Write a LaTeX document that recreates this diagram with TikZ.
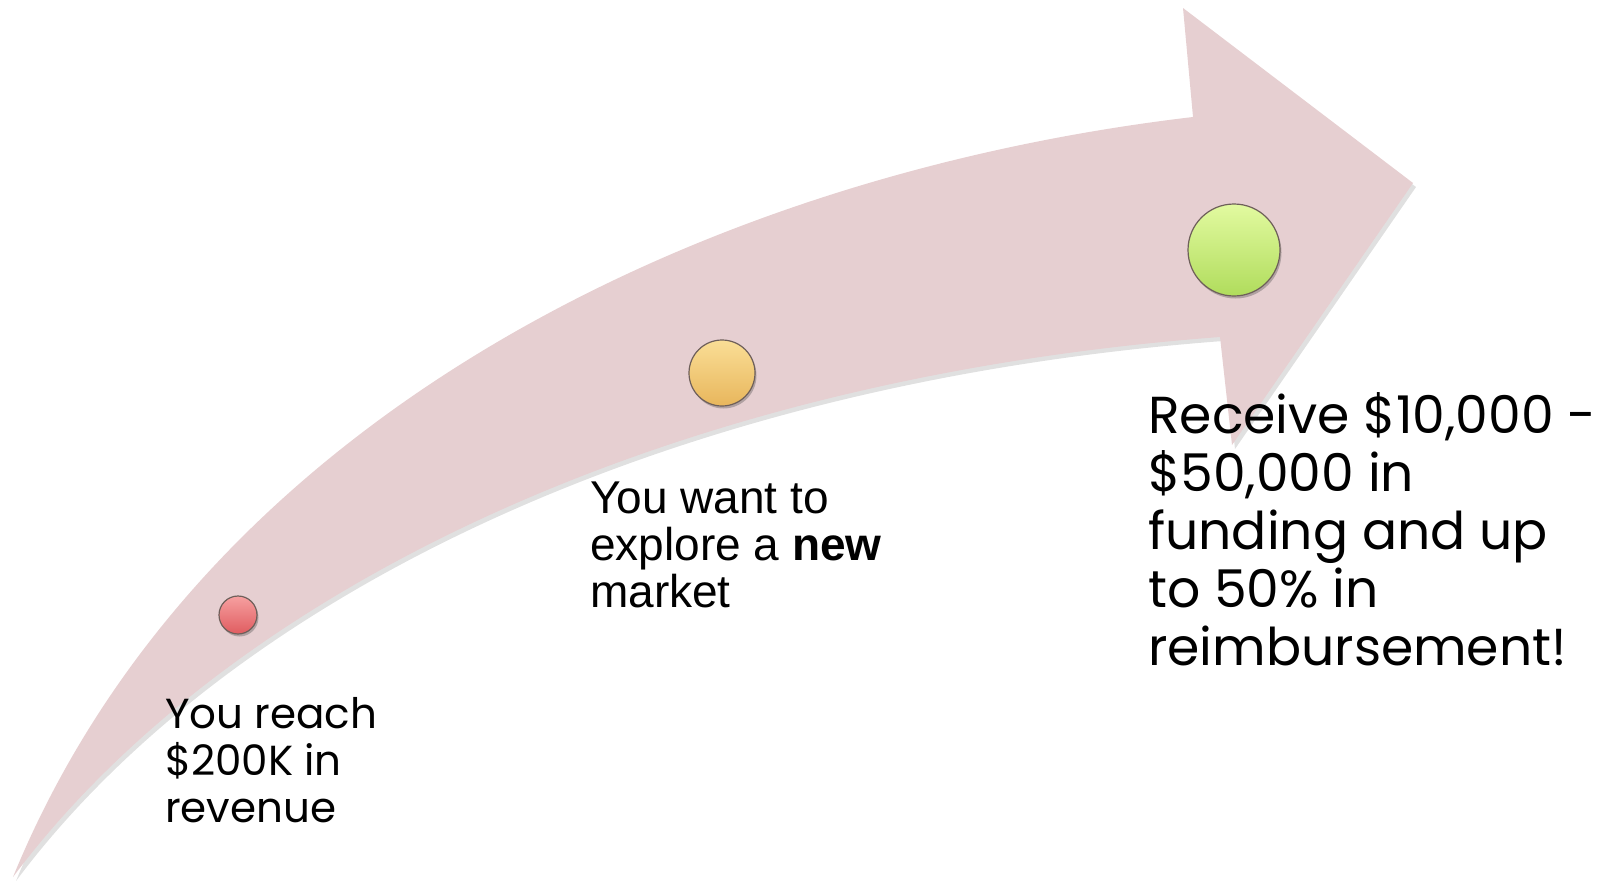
\documentclass[tikz,border=0pt]{standalone}
\usepackage{fontspec}
\setmainfont{Poppins}
\newfontfamily\arialface{Liberation Sans}
\usetikzlibrary{shadows}
\definecolor{arrowpink}{RGB}{230,207,209}
\definecolor{redtop}{RGB}{246,160,160}
\definecolor{redbot}{RGB}{224,92,96}
\definecolor{yeltop}{RGB}{250,222,150}
\definecolor{yelbot}{RGB}{232,182,92}
\definecolor{grntop}{RGB}{226,250,160}
\definecolor{grnbot}{RGB}{176,220,92}
\definecolor{rimgray}{RGB}{110,95,90}
\tikzset{
  ball/.style={circle, draw=rimgray, line width=1.2pt, inner sep=0pt,
    drop shadow={shadow xshift=1.5pt, shadow yshift=-2.5pt, opacity=0.35, fill=black!70}},
  smalltext/.style={anchor=base west, inner sep=0pt, align=left,
    font=\fontsize{42}{47}\selectfont, text=black},
  ariatext/.style={anchor=base west, inner sep=0pt, align=left,
    font=\arialface\fontsize{46}{47}\selectfont, text=black},
  bigtext/.style={anchor=base west, inner sep=0pt, align=left,
    font=\fontsize{52}{58}\selectfont, text=black}
}
\begin{document}
\begin{tikzpicture}[x=1pt,y=-1pt]
\useasboundingbox (0,0) rectangle (1613,886);
% shadow of the arrow
\fill[black, opacity=0.12, shift={(3,4)}]
  (13,877) .. controls (200,420) and (700,175) .. (1193,117)
  -- (1183,8) -- (1413,183) -- (1232,445) -- (1220,337)
  .. controls (650,380) and (220,600) .. (13,877) -- cycle;
% arrow body
\fill[arrowpink]
  (13,877) .. controls (200,420) and (700,175) .. (1193,117)
  -- (1183,8) -- (1413,183) -- (1232,445) -- (1220,337)
  .. controls (650,380) and (220,600) .. (13,877) -- cycle;
% balls
\node[ball, minimum size=38pt, top color=redtop, bottom color=redbot] (b1) at (238,615) {};
\node[ball, minimum size=66pt, top color=yeltop, bottom color=yelbot] (b2) at (722,373) {};
\node[ball, minimum size=92pt, top color=grntop, bottom color=grnbot] (b3) at (1234,250) {};
% texts (anchor = baseline of last line)
\node[smalltext] (t1) at (165,822) {You reach\\\$200K in\\revenue};
\node[ariatext] (t2) at (590,607) {You want to\\explore a \textbf{new}\\market};
\node[bigtext] (t3) at (1148,665) {Receive \$10,000 -\\\$50,000 in\\funding and up\\to 50\% in\\reimbursement!};
\end{tikzpicture}
\end{document}
